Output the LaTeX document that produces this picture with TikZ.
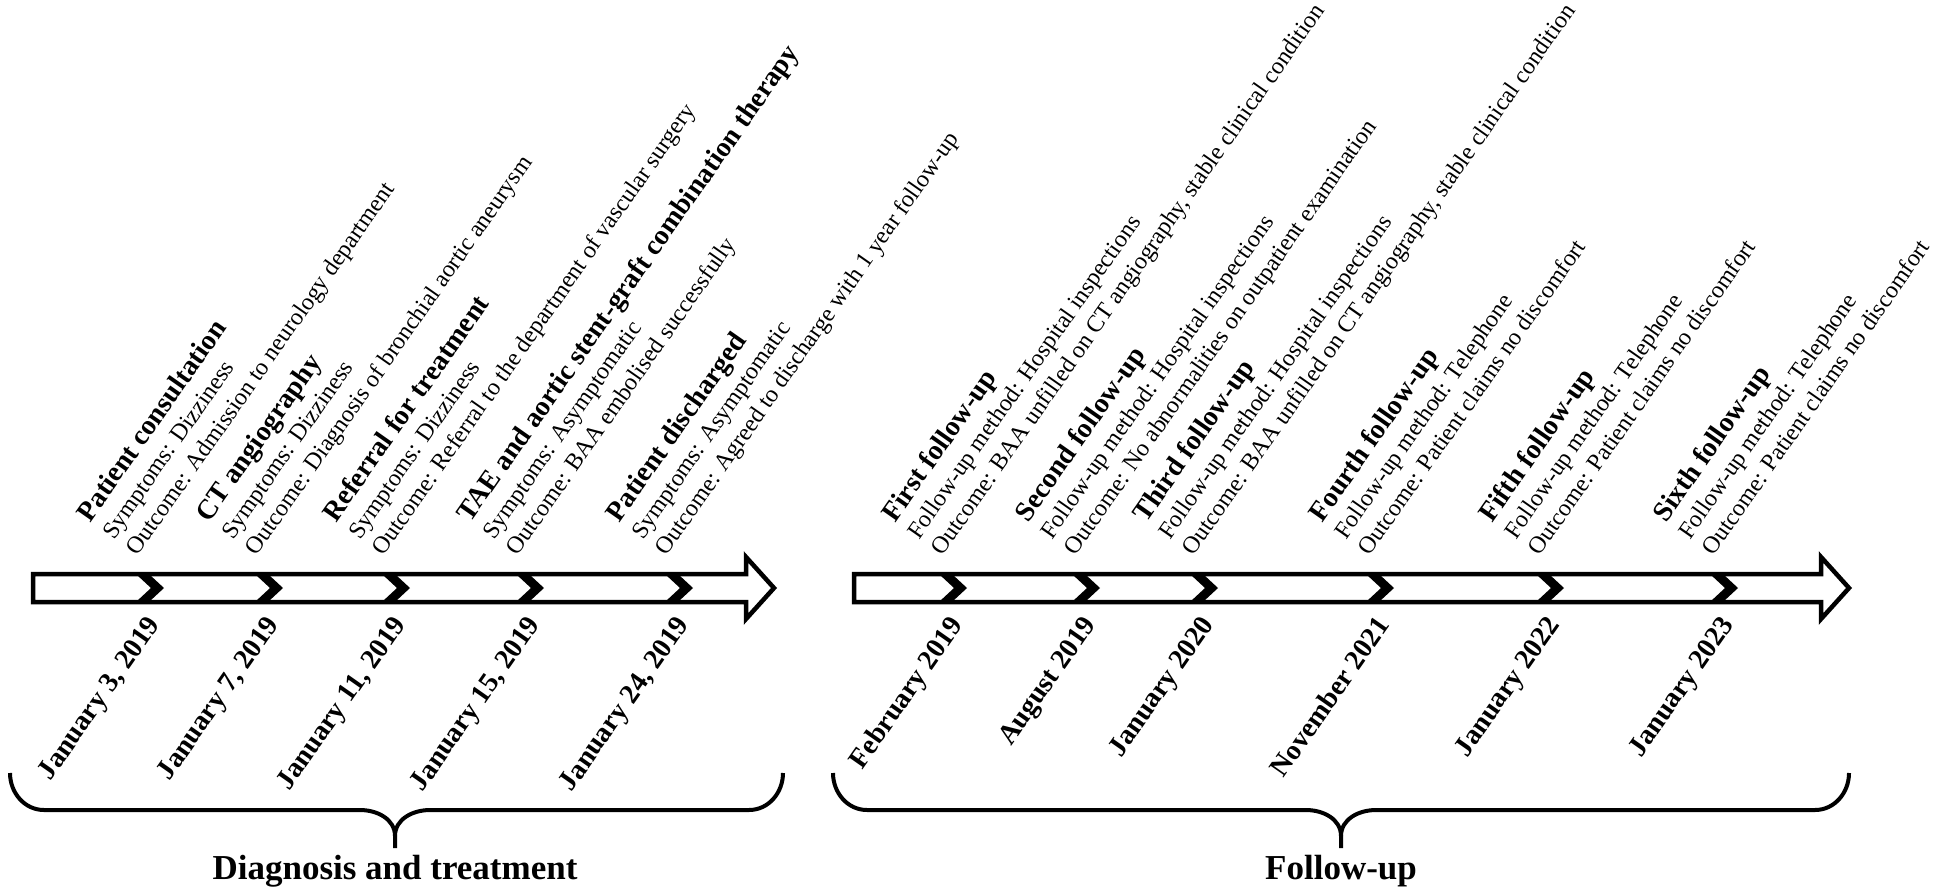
\documentclass[tikz,border=0pt]{standalone}
\usepackage{fontspec}
\setmainfont{Liberation Serif}
\begin{document}
\begin{tikzpicture}[x=1pt,y=-1pt,
  ev/.style={rotate=55,anchor=south west,align=left,inner sep=0pt,font=\fontsize{24}{29}\selectfont},
  dt/.style={rotate=55,anchor=north east,inner sep=0pt,font=\bfseries\fontsize{28}{30}\selectfont},
  grp/.style={anchor=base,inner sep=0pt,font=\bfseries\fontsize{35}{40}\selectfont},
  tl/.style={draw=black,line width=4.5pt,fill=white,line join=miter},
  chev/.style={fill=black,draw=none},
  brace/.style={draw=black,line width=4pt,line cap=butt}]
\useasboundingbox (0,0) rectangle (1950,891);
\newcommand{\ttl}[1]{{\bfseries\fontsize{28}{29}\selectfont #1}}
% timeline arrows
\draw[tl] (33,574) -- (746,574) -- (746,557) -- (774,588) -- (746,619) -- (746,602) -- (33,602) -- cycle;
\draw[tl] (854,574) -- (1821,574) -- (1821,557) -- (1849,588) -- (1821,619) -- (1821,602) -- (854,602) -- cycle;
% chevrons
\foreach \c in {152,271,398,532,681,955,1088,1206,1382,1552,1726}{
  \fill[chev] (\c-15,575) -- (\c-2,575) -- (\c+12,588) -- (\c-2,601) -- (\c-15,601) -- (\c-1,588) -- cycle;
}
% events group 1
\node[ev] (e1) at (145,562) {\ttl{Patient consultation}\\Symptoms: Dizziness\\Outcome: Admission to neurology department\strut};
\node[ev] (e2) at (264,562) {\ttl{CT angiography}\\Symptoms: Dizziness\\Outcome: Diagnosis of bronchial aortic aneurysm\strut};
\node[ev] (e3) at (391,562) {\ttl{Referral for treatment}\\Symptoms: Dizziness\\Outcome: Referral to the department of vascular surgery\strut};
\node[ev] (e4) at (525,562) {\ttl{TAE and aortic stent-graft combination therapy}\\Symptoms: Asymptomatic\\Outcome: BAA embolised successfully\strut};
\node[ev] (e5) at (674,562) {\ttl{Patient discharged}\\Symptoms: Asymptomatic\\Outcome: Agreed to discharge with 1 year follow-up\strut};
% events group 2
\node[ev] (f1) at (950,562) {\ttl{First follow-up}\\Follow-up method: Hospital inspections\\Outcome: BAA unfilled on CT angiography, stable clinical condition\strut};
\node[ev] (f2) at (1083,562) {\ttl{Second follow-up}\\Follow-up method: Hospital inspections\\Outcome: No abnormalities on outpatient examination\strut};
\node[ev] (f3) at (1201,562) {\ttl{Third follow-up}\\Follow-up method: Hospital inspections\\Outcome: BAA unfilled on CT angiography, stable clinical condition\strut};
\node[ev] (f4) at (1377,562) {\ttl{Fourth follow-up}\\Follow-up method: Telephone\\Outcome: Patient claims no discomfort\strut};
\node[ev] (f5) at (1547,562) {\ttl{Fifth follow-up}\\Follow-up method: Telephone\\Outcome: Patient claims no discomfort\strut};
\node[ev] (f6) at (1721,562) {\ttl{Sixth follow-up}\\Follow-up method: Telephone\\Outcome: Patient claims no discomfort\strut};
% dates
\node[dt] (d1) at (145,614) {January 3, 2019};
\node[dt] (d2) at (264,614) {January 7, 2019};
\node[dt] (d3) at (391,614) {January 11, 2019};
\node[dt] (d4) at (525,614) {January 15, 2019};
\node[dt] (d5) at (674,614) {January 24, 2019};
\node[dt] (g1) at (948,614) {February 2019};
\node[dt] (g2) at (1081,614) {August 2019};
\node[dt] (g3) at (1199,614) {January 2020};
\node[dt] (g4) at (1375,614) {November 2021};
\node[dt] (g5) at (1545,614) {January 2022};
\node[dt] (g6) at (1719,614) {January 2023};
% braces
\coordinate (b1l) at (10,773);
\coordinate (b1r) at (783,773);
\coordinate (b1m) at (395,848);
\draw[brace] (b1l) to[out=-90,in=180] (44,810) -- (360,810) to[out=0,in=90] (395,836) -- (b1m);
\draw[brace] (395,836) to[out=90,in=180] (430,810) -- (749,810) to[out=0,in=-90] (b1r);
\coordinate (b2l) at (833,773);
\coordinate (b2r) at (1849,773);
\coordinate (b2m) at (1341,848);
\draw[brace] (b2l) to[out=-90,in=180] (867,810) -- (1306,810) to[out=0,in=90] (1341,836) -- (b2m);
\draw[brace] (1341,836) to[out=90,in=180] (1376,810) -- (1815,810) to[out=0,in=-90] (b2r);
% group labels
\node[grp] (lab1) at (395,879) {Diagnosis and treatment};
\node[grp] (lab2) at (1341,879) {Follow-up};
\end{tikzpicture}
\end{document}
